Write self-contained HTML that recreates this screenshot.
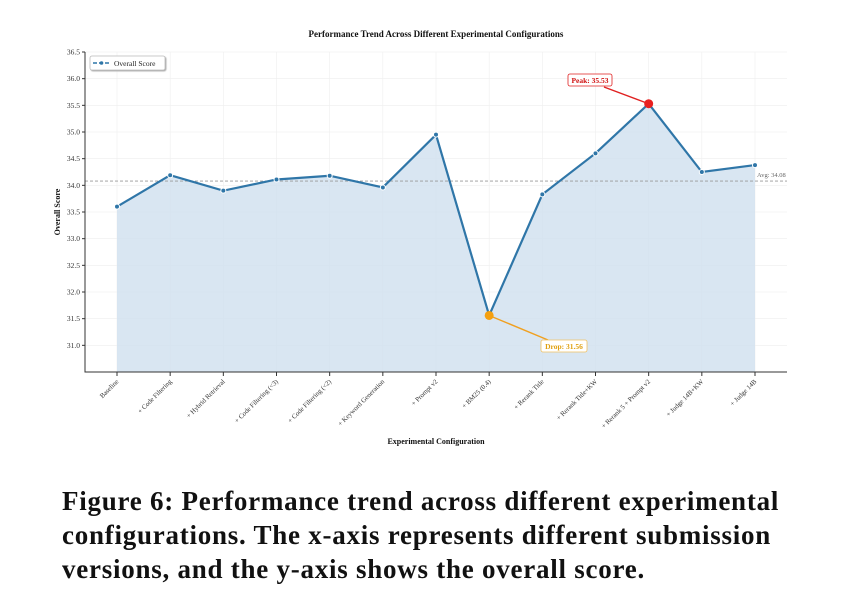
<!DOCTYPE html>
<html><head><meta charset="utf-8"><style>
body{margin:0;background:#fff;width:845px;height:613px;overflow:hidden}
#cap{position:absolute;left:62px;top:484px;width:780px;white-space:nowrap;font:bold 27px/34px "Liberation Serif",serif;color:#111;letter-spacing:0.75px}
</style></head><body>
<svg id="chart" width="845" height="470" style="position:absolute;left:0;top:0" font-family="Liberation Serif, serif"></svg>
<div id="cap">Figure 6: Performance trend across different experimental<br>configurations. The x-axis represents different submission<br>versions, and the y-axis shows the overall score.</div>
<script>
const categories=["Baseline","+ Code Filtering","+ Hybrid Retrieval","+ Code Filtering (<3)","+ Code Filtering (<2)","+ Keyword Generation","+ Prompt v2","+ BM25 (0.4)","+ Rerank Title","+ Rerank Title+KW","+ Rerank 5 + Prompt v2","+ Judge 14B+KW","+ Judge 14B"];
const scores=[33.60,34.19,33.90,34.11,34.18,33.96,34.95,31.56,33.83,34.60,35.53,34.25,34.38];
const yTicks=[31.0,31.5,32.0,32.5,33.0,33.5,34.0,34.5,35.0,35.5,36.0,36.5];
const avgScore=34.08;
const NS="http://www.w3.org/2000/svg",svg=document.getElementById('chart');
const L=85,R=787,T=52,B=372,yMin=30.5,yMax=36.5;
const x=i=>117+i*(755-117)/(categories.length-1);
const y=v=>B-(v-yMin)/(yMax-yMin)*(B-T);
function el(t,a,txt){const e=document.createElementNS(NS,t);for(const k in a)e.setAttribute(k,a[k]);if(txt!=null)e.textContent=txt;svg.appendChild(e);return e;}
let e=el('text',{x:436,y:37,'text-anchor':'middle','font-size':9,'font-weight':'bold',fill:'#111'},'Performance Trend Across Different Experimental Configurations');

yTicks.forEach(v=>{
 let g=el('line',{x1:L,x2:R,y1:y(v),y2:y(v),stroke:'#eee','stroke-width':0.6});
 
 let t=el('line',{x1:L-3,x2:L,y1:y(v),y2:y(v),stroke:'#333'});
 
 let l=el('text',{x:L-5,y:y(v)+2.5,'text-anchor':'end','font-size':7.5,fill:'#333'},v.toFixed(1));
 
});
categories.forEach((c,i)=>{
 let g=el('line',{x1:x(i),x2:x(i),y1:T,y2:B,stroke:'#eee','stroke-width':0.6});
 
});
let pts=scores.map((v,i)=>x(i)+','+y(v)).join(' ');
let area=el('polygon',{points:x(0)+','+B+' '+pts+' '+x(scores.length-1)+','+B,fill:'#cfe0ef','fill-opacity':0.8});

let avg=el('line',{x1:L,x2:R,y1:y(avgScore),y2:y(avgScore),stroke:'#999','stroke-width':0.8,'stroke-dasharray':'3,2'});

let avl=el('text',{x:757,y:y(avgScore)-4,'font-size':6.5,fill:'#666'},'Avg: '+avgScore.toFixed(2));

let line=el('polyline',{points:pts,fill:'none',stroke:'#2f76a8','stroke-width':2.2});

scores.forEach((v,i)=>{
 let p=el('circle',{cx:x(i),cy:y(v),r:2.5,fill:'#2f76a8',stroke:'#fff','stroke-width':1});
 
 let tk=el('line',{x1:x(i),x2:x(i),y1:B,y2:B+4,stroke:'#333'});
 
 let lb=el('text',{x:x(i)+2,y:B+10,'text-anchor':'end','font-size':6.8,fill:'#333',transform:`rotate(-45 ${x(i)+2} ${B+10})`},categories[i]);
 
});
let ax=el('path',{d:`M${L},${T} V${B} H${R}`,fill:'none',stroke:'#333','stroke-width':1});

const pk=scores.indexOf(Math.max(...scores)),dp=scores.indexOf(Math.min(...scores));
let pa=el('line',{x1:604,y1:87,x2:x(pk),y2:y(scores[pk]),stroke:'#e02020','stroke-width':1.4});

let pc=el('circle',{cx:x(pk),cy:y(scores[pk]),r:4.5,fill:'#e82020'});

let pb=el('rect',{x:568,y:74,width:44,height:12,rx:2,fill:'#fff',stroke:'#e02020','stroke-width':0.8});

let pt=el('text',{x:590,y:83,'text-anchor':'middle','font-size':7.5,'font-weight':'bold',fill:'#d01010'},'Peak: '+scores[pk].toFixed(2));

let da=el('line',{x1:x(dp),y1:y(scores[dp]),x2:548,y2:340,stroke:'#f0a020','stroke-width':1.4});

let dc=el('circle',{cx:x(dp),cy:y(scores[dp]),r:4.5,fill:'#f5a010'});

let db=el('rect',{x:541,y:340,width:46,height:12,rx:2,fill:'#fff',stroke:'#f0c060','stroke-width':0.8});

let dt=el('text',{x:564,y:349,'text-anchor':'middle','font-size':7.5,'font-weight':'bold',fill:'#e0a010'},'Drop: '+scores[dp].toFixed(2));

let lg=el('rect',{x:90,y:56,width:75,height:14,rx:2,fill:'#fff',stroke:'#bbb','stroke-width':0.8,filter:'drop-shadow(1px 1px 0.5px #aaa)'});

let ll=el('line',{x1:93,x2:110,y1:63,y2:63,stroke:'#2f76a8','stroke-width':1.6,'stroke-dasharray':'4,2'});

let lc=el('circle',{cx:101.5,cy:63,r:1.8,fill:'#2f76a8'});

let lt=el('text',{x:114,y:66,'font-size':7.5,fill:'#222'},'Overall Score');

let xt=el('text',{x:436,y:444,'text-anchor':'middle','font-size':8,'font-weight':'bold',fill:'#111'},'Experimental Configuration');

let yt=el('text',{x:60,y:212,'text-anchor':'middle','font-size':8,'font-weight':'bold',fill:'#111',transform:'rotate(-90 60 212)'},'Overall Score');

</script>
</body></html>
